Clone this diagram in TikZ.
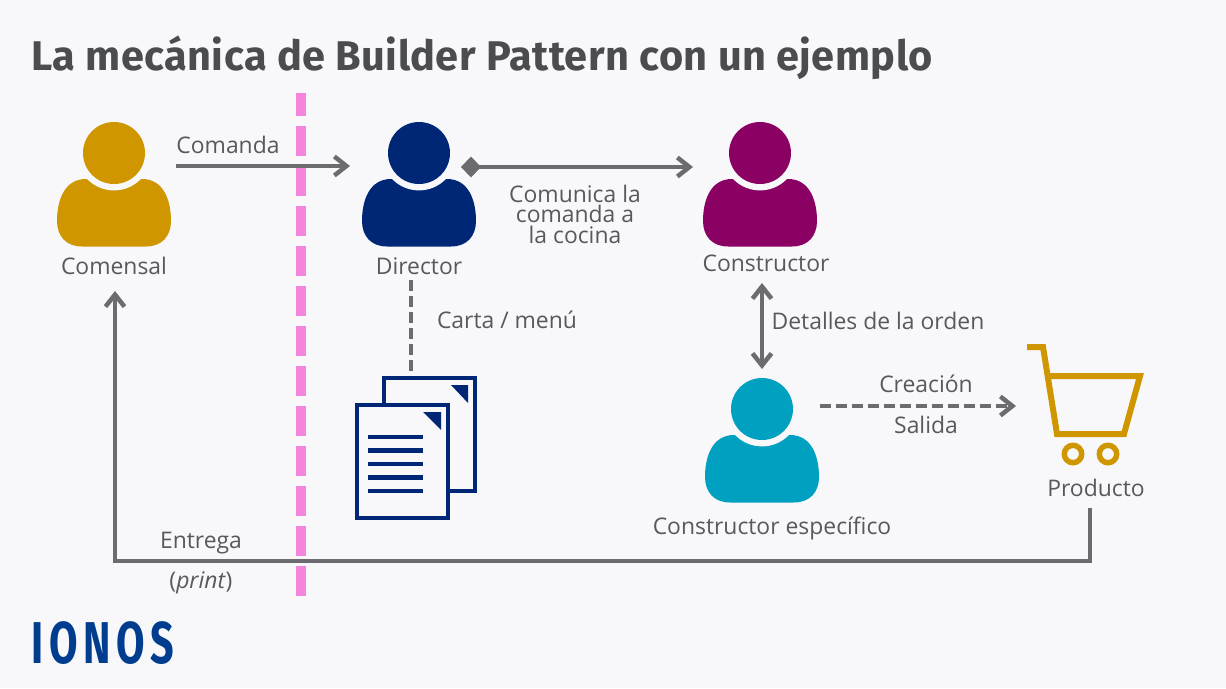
\documentclass[tikz,border=0pt]{standalone}
\usepackage{fontspec}
\setmainfont{Open Sans}
\newfontfamily\titlefont[LetterSpace=1.1]{Fira Sans}
\newfontfamily\logofont[LetterSpace=14]{Fira Sans}
\usetikzlibrary{arrows.meta,positioning}
\definecolor{paper}{HTML}{F8F8FA}
\definecolor{gold}{HTML}{D09600}
\definecolor{navy}{HTML}{002776}
\definecolor{plum}{HTML}{8A0063}
\definecolor{teal}{HTML}{00A0C0}
\definecolor{wire}{HTML}{6C6B70}
\definecolor{ink}{HTML}{58595B}
\definecolor{pink}{HTML}{F584DC}
\definecolor{logoblue}{HTML}{003D8F}

\begin{document}
\begin{tikzpicture}[x=1pt,y=-1pt,
    barb/.tip={Straight Barb[length=12pt,width=19pt,line width=4.5pt]},
    wire/.style={draw=wire,line width=4pt},
    dashwire/.style={wire,dash pattern=on 11pt off 5pt},
    lbl/.style={text=ink,inner sep=0pt,align=center,font=\fontsize{22.9}{20.5}\selectfont},
    tag/.style={lbl,anchor=base},
    person/.pic={
      \fill[pic actions] (-32,93.5) -- (32,93.5) .. controls (48,93.5) and (57,83) .. (57,68)
        .. controls (57,48) and (50,26) .. (28,26) -- (-28,26)
        .. controls (-50,26) and (-57,48) .. (-57,68) .. controls (-57,83) and (-48,93.5) .. (-32,93.5) -- cycle;
      \fill[paper] (0,0) circle (37.4);
      \fill[pic actions] (0,0) circle (31);
    }]
  \useasboundingbox[fill=paper] (0,0) rectangle (1226,688);
  \node[text=ink!85!black,inner sep=0pt,anchor=base west,font=\titlefont\bfseries\fontsize{41.5}{44}\selectfont] (title) at (31,70) {La mecánica de Builder Pattern con un ejemplo};
  \draw[pink,line width=10pt,dash pattern=on 30pt off 10pt] (301,596) -- (301,93);
  % people
  \foreach \x/\y/\col in {114/153/gold,419/153/navy,760/153/plum,762/409/teal} {
    \pic[fill=\col] at (\x,\y) {person};
  }
  % cart
  \draw[gold,line width=6pt] (1027,347) -- (1043,347) -- (1057,434) -- (1124,434) -- (1140,376) -- (1049,376);
  \foreach \x in {1073,1108} {
    \draw[gold,line width=5.5pt] (\x,454) circle (8.7);
  }
  % pages
  \draw[navy,line width=4.3pt,fill=paper] (384,378) rectangle (475,491);
  \draw[navy,line width=4.3pt,fill=paper] (357,405) rectangle (448,518);
  \fill[navy] (451,385) -- (468,385) -- (468,403) -- cycle;
  \fill[navy] (423,412) -- (441,412) -- (441,430) -- cycle;
  \foreach \y in {437,450.3,464,477.3,491} {
    \draw[navy,line width=4.5pt] (368,\y) -- (423,\y);
  }
  % labels
  \node[tag] (comensal) at (114,274.2) {Comensal};
  \node[tag] (director) at (419,274.2) {Director};
  \node[tag] (constructor) at (766,271.2) {Constructor};
  \node[tag] (especifico) at (772,534.2) {Constructor específico};
  \node[tag] (producto) at (1096,496.2) {Producto};
  \node[tag] (comanda) at (228,153.2) {Comanda};
  \node[lbl] (comunica) at (575,214) {Comunica la\\comanda a\\la cocina};
  \node[tag] (carta) at (507,328.2) {Carta / menú};
  \node[tag] (detalles) at (878,329.2) {Detalles de la orden};
  \node[tag] (creacion) at (926,392) {Creación};
  \node[tag] (salida) at (926,433) {Salida};
  \node[tag] (entrega) at (201,548.2) {Entrega};
  \node[tag] (print) at (201,588.7) {(\textit{print})};
  \node[text=logoblue,inner sep=0pt,anchor=base west,xscale=.7,font=\logofont\bfseries\fontsize{59}{60}\selectfont] (ionos) at (31,663) {IONOS};
  % connector ends
  \coordinate (comensalOut) at (176,166);
  \coordinate (directorIn) at (350,166);
  \coordinate (directorOut) at (461,167);
  \coordinate (constructorIn) at (693,167);
  \coordinate (constructorDown) at (762,283);
  \coordinate (especificoUp) at (762,369);
  \coordinate (directorDown) at (411,280);
  \coordinate (pagesUp) at (411,372);
  \coordinate (especificoOut) at (820,406);
  \coordinate (productoIn) at (1016,406);
  \coordinate (productoOut) at (1090,508);
  \coordinate (cornerR) at (1090,561);
  \coordinate (cornerL) at (115,561);
  \coordinate (comensalIn) at (115,291);
  % connectors
  \draw[wire,-barb] (comensalOut) -- (directorIn);
  \draw[wire,{Diamond[length=20pt,width=21pt]}-barb] (directorOut) -- (constructorIn);
  \draw[wire,barb-barb] (constructorDown) -- (especificoUp);
  \draw[dashwire] (directorDown) -- (pagesUp);
  \draw[dashwire,-barb] (especificoOut) -- (productoIn);
  \draw[wire,-barb] (productoOut) -- (cornerR) -- (cornerL) -- (comensalIn);
\end{tikzpicture}
\end{document}
